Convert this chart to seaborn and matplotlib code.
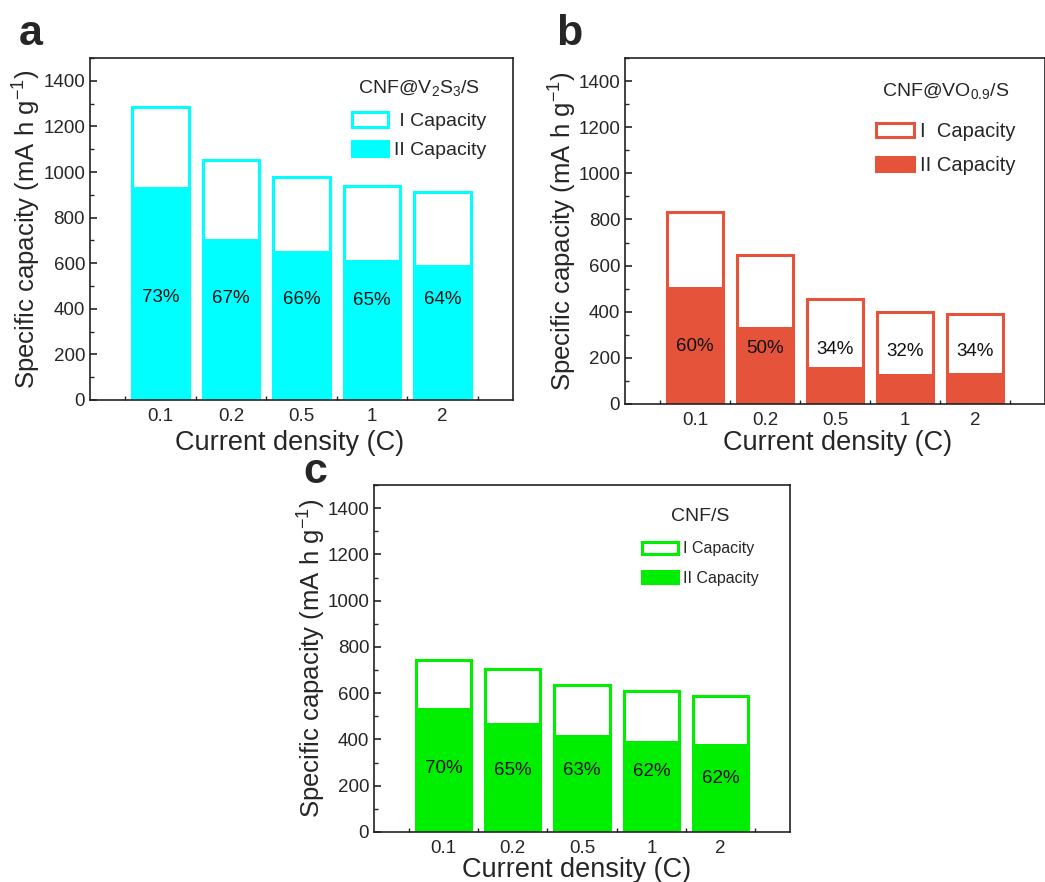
import numpy as np
import pandas as pd
import matplotlib
matplotlib.use('Agg')
import matplotlib.pyplot as plt
from matplotlib.patches import Patch
from matplotlib.ticker import MultipleLocator, FixedLocator
import seaborn as sns

# data
rates = ['0.1', '0.2', '0.5', '1', '2']

v2s3_first = [1284, 1052, 980, 939, 913]
v2s3_second = [933, 708, 654, 614, 590]
v2s3_pct = ['73%', '67%', '66%', '65%', '64%']
v2s3_pct_y = [450, 445, 440, 437, 440]

vo_first = [833, 648, 456, 398, 388]
vo_second = [505, 333, 159, 130, 135]
vo_pct = ['60%', '50%', '34%', '32%', '34%']
vo_pct_y = [250, 242, 235, 228, 228]

cnf_first = [742, 706, 634, 610, 587]
cnf_second = [534, 473, 421, 393, 380]
cnf_pct = ['70%', '65%', '63%', '62%', '62%']
cnf_pct_y = [274, 267, 267, 260, 231]

sns.set_style('ticks')
plt.rcParams['font.family'] = ['Liberation Sans', 'DejaVu Sans']
plt.rcParams['mathtext.fontset'] = 'custom'
plt.rcParams['mathtext.rm'] = 'Liberation Sans'
plt.rcParams['mathtext.it'] = 'Liberation Sans'
plt.rcParams['axes.linewidth'] = 1.2

fig = plt.figure(figsize=(10.45, 8.82), dpi=100)


def draw_panel(rect, first, second, pct, pct_y, color, title, labels, letter,
               letter_xy, leg_anchor, leg):
    ax = fig.add_axes(rect)
    df = pd.DataFrame({'rate': rates, 'first': first, 'second': second})
    sns.barplot(data=df, x='rate', y='first', ax=ax, color='white', saturation=1,
                edgecolor=color, linewidth=2.2, width=0.8)
    sns.barplot(data=df, x='rate', y='second', ax=ax, color=color, saturation=1,
                edgecolor=color, linewidth=0, width=0.8 - 0.03)
    for i, (t, y) in enumerate(zip(pct, pct_y)):
        ax.text(i, y, t, ha='center', va='center', fontsize=13.5, color='#111111')
    ax.set_xlim(-1, 5)
    ax.set_ylim(0, 1500)
    ax.yaxis.set_major_locator(FixedLocator([0, 200, 400, 600, 800, 1000, 1200, 1400]))
    ax.yaxis.set_minor_locator(MultipleLocator(100))
    ax.xaxis.set_minor_locator(FixedLocator([-0.5, 0.5, 1.5, 2.5, 3.5, 4.5]))
    ax.tick_params(which='both', direction='in', labelsize=13.5)
    ax.tick_params(which='major', length=5, width=1.2)
    ax.tick_params(which='minor', length=3, width=1.0)
    ax.tick_params(axis='x', pad=6)
    for s in ax.spines.values():
        s.set_visible(True)
        s.set_color('#222222')
    ax.set_xlabel('Current density (C)', fontsize=19.5)
    ax.set_ylabel('Specific capacity (mA h g$^{-1}$)', fontsize=18.5)
    ax.yaxis.set_label_coords(-0.11, 0.5)
    ax.xaxis.set_label_coords(leg['xlab'], leg['xlab_y'])
    handles = [Patch(facecolor='white', edgecolor=color, linewidth=2.2),
               Patch(facecolor=color, edgecolor=color, linewidth=2.2)]
    lg = ax.legend(handles, labels, title=title, loc='upper left',
                   bbox_to_anchor=leg_anchor, frameon=False, fontsize=leg['size'],
                   title_fontsize=leg['tsize'], handlelength=leg['hl'],
                   handleheight=leg['hh'], handletextpad=0.3,
                   labelspacing=leg['ls'], borderpad=0, borderaxespad=0)
    lg._legend_box.sep = leg['sep']
    fig.text(letter_xy[0], letter_xy[1], letter, fontsize=31, fontweight='bold',
             ha='left', va='baseline')
    return ax


draw_panel([0.0861, 0.5465, 0.4048, 0.3877], v2s3_first, v2s3_second, v2s3_pct,
           v2s3_pct_y, '#00ffff', 'CNF@V$_2$S$_3$/S', [' I Capacity', 'II Capacity'],
           'a', (0.018, 0.949), (0.62, 0.942),
           dict(size=14, tsize=14, hl=1.85, hh=0.82, ls=0.57, sep=10,
                xlab=0.473, xlab_y=-0.088))

draw_panel([0.5981, 0.5420, 0.4019, 0.3922], vo_first, vo_second, vo_pct,
           vo_pct_y, '#e5533a', 'CNF@VO$_{0.9}$/S', ['I  Capacity', 'II Capacity'],
           'b', (0.532, 0.949), (0.597, 0.934),
           dict(size=14.5, tsize=14, hl=1.9, hh=0.7, ls=0.75, sep=15,
                xlab=0.507, xlab_y=-0.075))

draw_panel([0.3579, 0.0567, 0.3981, 0.3934], cnf_first, cnf_second, cnf_pct,
           cnf_pct_y, '#00ee00', 'CNF/S', ['I Capacity', 'II Capacity'],
           'c', (0.29, 0.452), (0.645, 0.935),
           dict(size=11.5, tsize=14, hl=2.25, hh=0.8, ls=0.9, sep=12,
                xlab=0.488, xlab_y=-0.072))

fig.savefig('out.png', dpi=100)
